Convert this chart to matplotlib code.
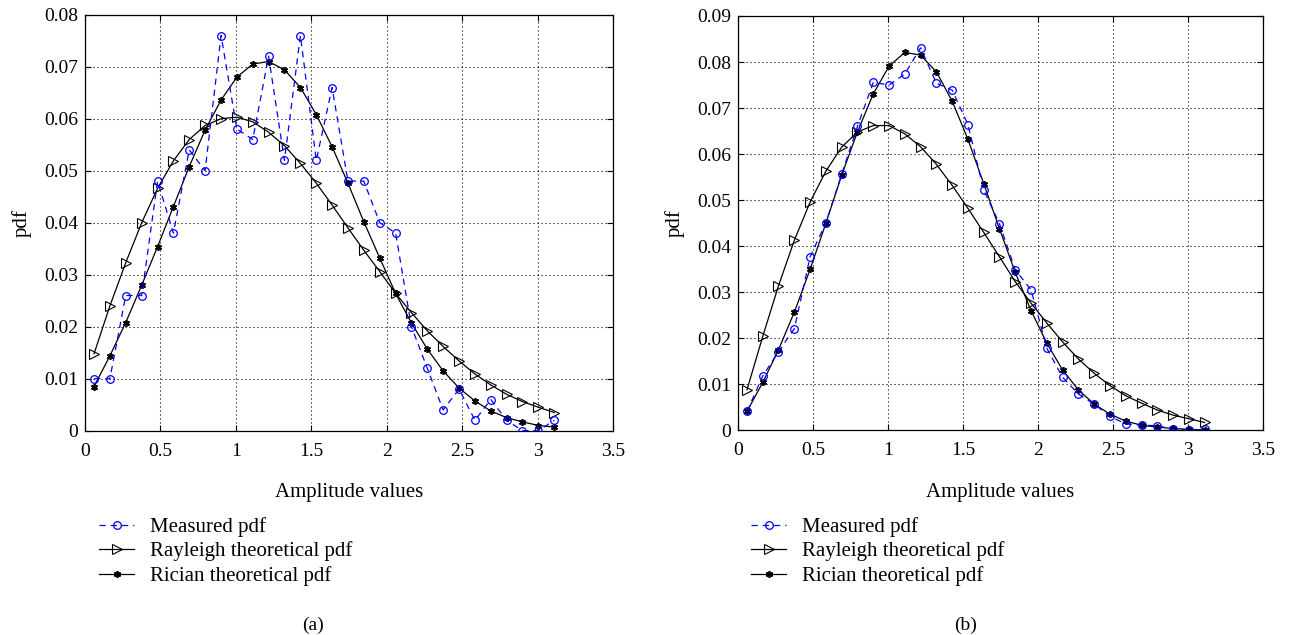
import matplotlib
matplotlib.use("Agg")
import matplotlib.pyplot as plt

plt.rcParams['font.family'] = ['Liberation Serif', 'DejaVu Serif']
plt.rcParams['font.size'] = 14

# amplitude bin centres (30 bins)
amp = [0.060, 0.165, 0.270, 0.376, 0.481, 0.586, 0.691, 0.796, 0.902, 1.007,
       1.112, 1.217, 1.322, 1.428, 1.533, 1.638, 1.743, 1.848, 1.954, 2.059,
       2.164, 2.269, 2.374, 2.480, 2.585, 2.690, 2.795, 2.900, 3.006, 3.111]

# panel (a)
meas_a = [0.010, 0.010, 0.026, 0.026, 0.048, 0.038, 0.054, 0.050, 0.076, 0.058,
          0.056, 0.072, 0.052, 0.076, 0.052, 0.066, 0.048, 0.048, 0.040, 0.038,
          0.020, 0.012, 0.004, 0.008, 0.002, 0.006, 0.002, 0.000, 0.000, 0.002]
rayl_a = [0.0148, 0.0240, 0.0323, 0.0400, 0.0466, 0.0519, 0.0560, 0.0587, 0.0600, 0.0603,
          0.0594, 0.0574, 0.0548, 0.0514, 0.0476, 0.0434, 0.0390, 0.0347, 0.0306, 0.0264,
          0.0227, 0.0192, 0.0162, 0.0134, 0.0109, 0.0088, 0.0070, 0.0056, 0.0045, 0.0035]
rice_a = [0.0085, 0.0144, 0.0208, 0.0280, 0.0354, 0.0431, 0.0508, 0.0578, 0.0636, 0.0680,
          0.0705, 0.0710, 0.0694, 0.0660, 0.0608, 0.0546, 0.0476, 0.0402, 0.0332, 0.0264,
          0.0207, 0.0157, 0.0115, 0.0082, 0.0057, 0.0038, 0.0025, 0.0017, 0.0010, 0.0007]

# panel (b)
meas_b = [0.0041, 0.0118, 0.0171, 0.0221, 0.0377, 0.0451, 0.0556, 0.0660, 0.0756, 0.0750,
          0.0774, 0.0831, 0.0754, 0.0739, 0.0664, 0.0522, 0.0449, 0.0349, 0.0305, 0.0178,
          0.0115, 0.0079, 0.0057, 0.0030, 0.0014, 0.0011, 0.0010, 0.0002, 0.0000, 0.0002]
rayl_b = [0.0088, 0.0204, 0.0314, 0.0413, 0.0496, 0.0563, 0.0615, 0.0648, 0.0662, 0.0662,
          0.0644, 0.0616, 0.0578, 0.0532, 0.0482, 0.0430, 0.0377, 0.0323, 0.0276, 0.0233,
          0.0192, 0.0155, 0.0124, 0.0097, 0.0075, 0.0059, 0.0044, 0.0033, 0.0025, 0.0017]
rice_b = [0.0041, 0.0104, 0.0175, 0.0257, 0.0350, 0.0450, 0.0554, 0.0648, 0.0731, 0.0791,
          0.0821, 0.0815, 0.0779, 0.0715, 0.0632, 0.0536, 0.0438, 0.0343, 0.0260, 0.0189,
          0.0131, 0.0088, 0.0057, 0.0035, 0.0020, 0.0011, 0.0007, 0.0004, 0.0002, 0.0001]

xticks = [0, 0.5, 1, 1.5, 2, 2.5, 3, 3.5]
xtick_labels = ['0', '0.5', '1', '1.5', '2', '2.5', '3', '3.5']
labels = ['Measured pdf', 'Rayleigh theoretical pdf', 'Rician theoretical pdf']

ASTERISK = (6, 2, 0)


def panel(fig, rect, meas, rayl, rice, ymax, tag, legend_x, tag_x):
    ax = fig.add_axes(rect)
    ax.plot(amp, meas, color='#0000ff', linestyle=(0, (5, 4)), linewidth=0.9,
            marker='o', markersize=5.5, markerfacecolor='none', markeredgecolor='#0000ff',
            markeredgewidth=0.9, label=labels[0], zorder=3)
    ax.plot(amp, rayl, color='black', linewidth=0.9,
            marker='>', markersize=6.5, markerfacecolor='none', markeredgecolor='black',
            markeredgewidth=0.8, label=labels[1], zorder=2)
    ax.plot(amp, rice, color='black', linewidth=0.9,
            marker=ASTERISK, markersize=5, markeredgecolor='black',
            markeredgewidth=1.2, label=labels[2], zorder=2)

    ax.set_xlim(0, 3.5)
    ax.set_ylim(0, ymax)
    ax.set_xticks(xticks)
    ax.set_xticklabels(xtick_labels)
    n = int(round(ymax / 0.01))
    yt = [i * 0.01 for i in range(n + 1)]
    ax.set_yticks(yt)
    ax.set_yticklabels(['0'] + ['%.2f' % v for v in yt[1:]])
    ax.tick_params(direction='in', top=True, right=True, length=4, width=0.8,
                   labelsize=14)
    ax.tick_params(axis='x', pad=8.5)
    ax.tick_params(axis='y', pad=5)
    # matlab style dotted grid
    ax.grid(True, color='black', linestyle=(0, (1, 2.6)), linewidth=0.8)
    for s in ax.spines.values():
        s.set_linewidth(0.9)
    ax.set_xlabel('Amplitude values', fontsize=15, labelpad=17)
    ax.set_ylabel('pdf', fontsize=15, labelpad=9)

    ax.legend(loc='upper left', bbox_to_anchor=(legend_x, (635 - 517) / 635),
              bbox_transform=fig.transFigure, frameon=False, fontsize=15,
              handlelength=1.7, handletextpad=0.75, labelspacing=0.22,
              borderpad=0, borderaxespad=0, numpoints=1)
    fig.text(tag_x, (635 - 625) / 635, tag, ha='center', va='center', fontsize=14)
    return ax


fig = plt.figure(figsize=(12.9, 6.35), dpi=100)
panel(fig, [85 / 1290, (635 - 430.7) / 635, 528 / 1290, 416 / 635],
      meas_a, rayl_a, rice_a, 0.08, '(a)', 99 / 1290, 313 / 1290)
panel(fig, [738 / 1290, (635 - 430.3) / 635, 525 / 1290, 414.3 / 635],
      meas_b, rayl_b, rice_b, 0.09, '(b)', 751 / 1290, 966 / 1290)

fig.savefig('out.png', dpi=100)
